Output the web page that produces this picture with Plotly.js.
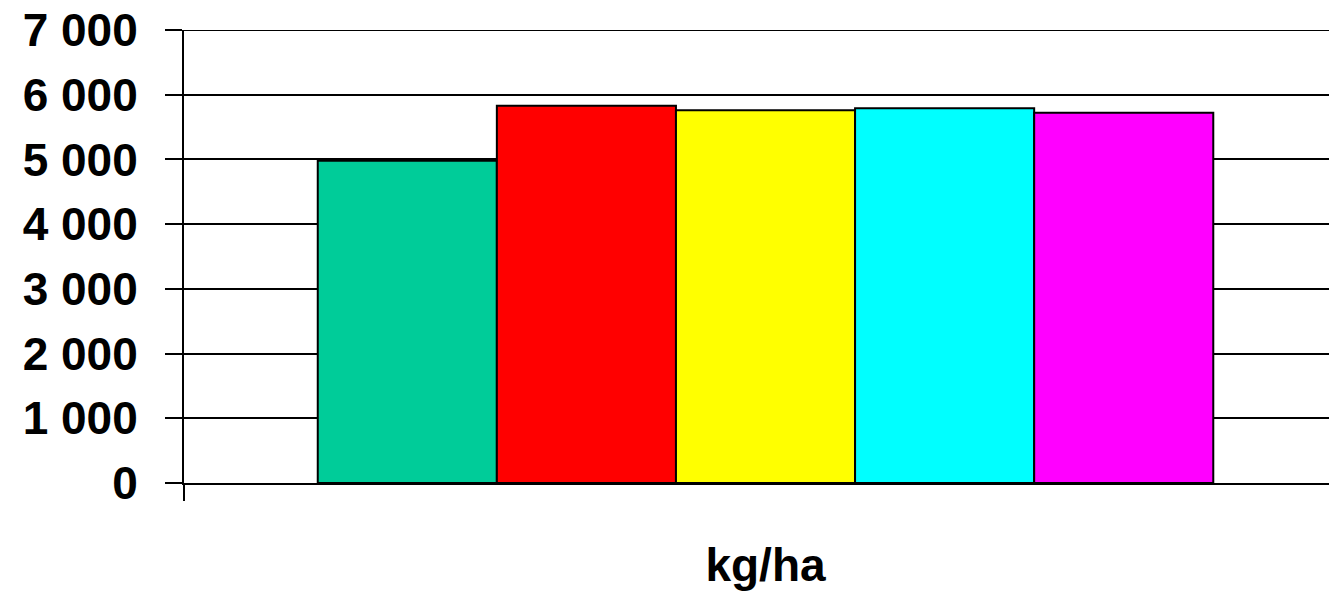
<!DOCTYPE html>
<html>
<head>
<meta charset="utf-8">
<script src="https://cdn.plot.ly/plotly-3.0.1.min.js"></script>
<style>
  html, body { margin: 0; padding: 0; background: #fff; overflow: hidden; }
  #chart { width: 1329px; height: 592px; }
</style>
</head>
<body>
<div id="chart"></div>
<script>
// Yield per variant, one category on the x axis
const categories = ["kg/ha"];
const seriesNames = ["Variant 1", "Variant 2", "Variant 3", "Variant 4", "Variant 5"];
const seriesValues = [[4980], [5830], [5760], [5790], [5720]];
const seriesColors = ["#00CC99", "#FF0000", "#FFFF00", "#00FFFF", "#FF00FF"];
const yTicks = [0, 1000, 2000, 3000, 4000, 5000, 6000, 7000];
const yMax = 7000;

const traces = seriesNames.map((name, i) => ({
  type: "bar",
  name: name,
  x: categories,
  y: seriesValues[i],
  marker: { color: seriesColors[i], line: { color: "#000", width: 2 } },
  hoverinfo: "skip"
}));

const boldFont = { family: "Liberation Sans, Arial, sans-serif", size: 46, color: "#000", weight: 700 };

const layout = {
  width: 1329,
  height: 592,
  margin: { l: 184, r: 0, t: 30, b: 109, pad: 0 },
  paper_bgcolor: "#fff",
  plot_bgcolor: "#fff",
  showlegend: false,
  separators: ", ",
  barmode: "group",
  bargap: 0.23,
  bargroupgap: 0,
  font: boldFont,
  xaxis: {
    type: "category",
    range: [-0.5, 0.4845],
    showgrid: false,
    zeroline: false,
    showline: true,
    linecolor: "#000",
    linewidth: 2,
    ticks: "outside",
    tickson: "boundaries",
    ticklen: 16,
    tickwidth: 2,
    tickcolor: "#000",
    tickfont: boldFont,
    ticklabelstandoff: 41
  },
  yaxis: {
    range: [0, yMax],
    tickvals: yTicks,
    tickformat: ",d",
    showgrid: true,
    gridcolor: "#000",
    gridwidth: 2,
    zeroline: false,
    showline: true,
    linecolor: "#000",
    linewidth: 2,
    ticks: "outside",
    ticklen: 17,
    tickwidth: 2,
    tickcolor: "#000",
    tickfont: boldFont,
    ticklabelstandoff: 18
  },
  // top gridline sits on the plot edge, so draw it explicitly
  shapes: [{
    type: "line", xref: "paper", yref: "y",
    x0: 0, x1: 1, y0: yMax, y1: yMax,
    line: { color: "#000", width: 2 }
  }]
};

Plotly.newPlot("chart", traces, layout, { staticPlot: true, displayModeBar: false });
</script>
</body>
</html>
